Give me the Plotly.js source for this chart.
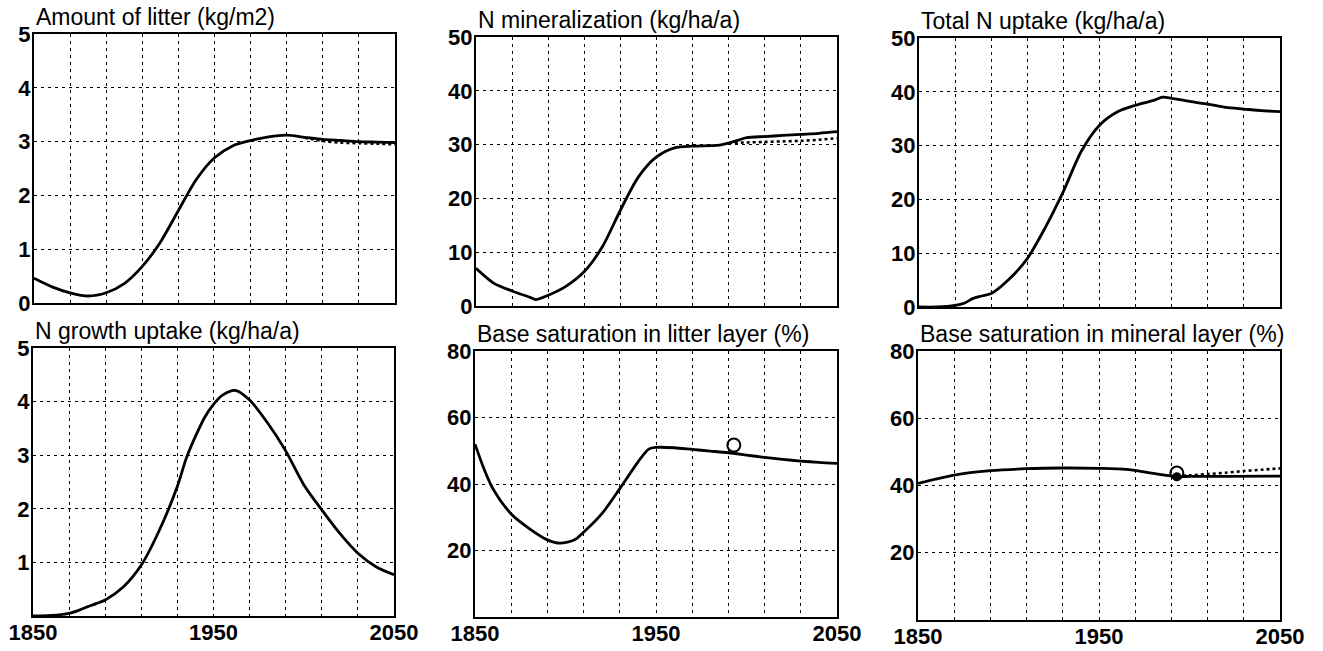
<!DOCTYPE html>
<html>
<head>
<meta charset="utf-8">
<script src="https://cdn.plot.ly/plotly-3.0.1.min.js"></script>
<style>html,body{margin:0;padding:0;background:#fff;}#chart{width:1323px;height:651px;}</style>
</head>
<body>
<div id="chart"></div>
<script>
// ---- data ----
var titles = ["Amount of litter (kg/m2)", "N mineralization (kg/ha/a)", "Total N uptake (kg/ha/a)",
              "N growth uptake (kg/ha/a)", "Base saturation in litter layer (%)", "Base saturation in mineral layer (%)"];

var gridYears = [1850,1870,1890,1910,1930,1950,1970,1990,2010,2030,2050];
var gridYearLabels = ["1850","","","","","1950","","","","","2050"];

var litterYears = [1850,1860,1870,1880,1890,1900,1910,1920,1930,1940,1950,1960,1970,1980,1990,2000,2010,2020,2030,2040,2050];
var litter      = [0.46,0.30,0.19,0.13,0.19,0.36,0.68,1.13,1.72,2.30,2.70,2.92,3.02,3.09,3.12,3.08,3.04,3.02,3.00,2.99,2.98];
var litterAltYears = [2000,2010,2020,2030,2040,2050];
var litterAlt      = [3.07,3.01,2.98,2.97,2.96,2.95];

var nminYears = [1850,1860,1870,1880,1883,1890,1900,1910,1920,1930,1940,1950,1960,1970,1980,1985,1990,1995,2000,2010,2020,2030,2040,2050];
var nmin      = [7.0,4.2,2.8,1.6,1.2,2.0,3.7,6.4,11.0,17.8,24.0,27.7,29.4,29.7,29.8,29.9,30.3,30.8,31.3,31.5,31.7,31.9,32.1,32.4];
var nminAltYears = [1990,2000,2010,2020,2030,2040,2050];
var nminAlt      = [30.3,30.4,30.5,30.6,30.7,30.9,31.2];

var totalNYears = [1850,1860,1870,1875,1880,1884,1890,1900,1910,1920,1930,1940,1950,1960,1970,1980,1985,1990,2000,2010,2020,2030,2040,2050];
var totalN      = [0,0,0.3,0.7,1.6,2.0,2.5,5.2,9.0,14.8,21.5,29.0,33.8,36.3,37.5,38.4,39.0,38.8,38.2,37.7,37.1,36.8,36.5,36.3];

var growthYears = [1850,1860,1870,1875,1880,1885,1890,1900,1910,1920,1930,1935,1940,1945,1950,1955,1962,1970,1980,1990,2000,2010,2020,2030,2040,2050];
var growth      = [0,0.01,0.05,0.1,0.17,0.23,0.3,0.54,0.95,1.6,2.42,2.95,3.35,3.7,3.95,4.12,4.21,4.03,3.6,3.08,2.45,1.98,1.54,1.17,0.92,0.77];

var litterBSYears = [1850,1855,1860,1870,1880,1890,1897,1905,1910,1920,1930,1940,1946,1950,1960,1970,1980,1990,2000,2010,2020,2030,2040,2050];
var litterBS      = [52,44.5,38.5,31,26.6,23.2,22.2,23.2,25.5,31,38.6,46.6,50.5,51,50.9,50.4,49.9,49.4,48.7,48.0,47.4,46.9,46.5,46.2];
var litterBSObsYear = [1993];
var litterBSObs     = [51.7];

var mineralBSYears = [1850,1870,1890,1910,1930,1950,1965,1980,1993,2000,2020,2050];
var mineralBS      = [40.6,43.1,44.4,45.0,45.2,45.1,44.8,43.6,42.7,42.7,42.7,42.8];
var mineralBSAltYears = [1993,2000,2010,2020,2030,2040,2050];
var mineralBSAlt      = [42.8,43.0,43.4,43.8,44.3,44.7,45.1];
var mineralBSObsYear = [1993];
var mineralBSObs     = [43.7];
var mineralBSModYear = [1993];
var mineralBSMod     = [42.6];

var yTicks = [[0,1,2,3,4,5],[0,10,20,30,40,50],[0,10,20,30,40,50],[1,2,3,4,5],[20,40,60,80],[20,40,60,80]];
var yRanges = [[0,5],[0,50],[0,50],[0,5],[0,80],[0,80]];

// ---- layout geometry (pixels) ----
var W = 1323, H = 651;
var boxes = [
  {l:34, r:395, t:34, b:303},
  {l:476, r:837, t:37, b:306},
  {l:919, r:1280, t:38, b:307},
  {l:33, r:394, t:348, b:616},
  {l:475, r:837, t:351, b:617},
  {l:918, r:1280, t:351, b:620}
];

var FONT = "Liberation Sans, Arial, Helvetica, sans-serif";
var lineStyle = {color:"#000", width:2.8, shape:"spline", smoothing:0.8};
var dotStyle = {color:"#000", width:2.6, dash:"dot", shape:"spline", smoothing:0.8};

function ax(i){ return i===0 ? "" : String(i+1); }

var traces = [];
function add(i, x, y, extra){
  var t = {x:x, y:y, type:"scatter", mode:"lines", xaxis:"x"+ax(i), yaxis:"y"+ax(i),
           line:lineStyle, showlegend:false, hoverinfo:"skip", cliponaxis:false};
  for (var k in extra) t[k] = extra[k];
  traces.push(t);
}
add(0, litterAltYears, litterAlt, {line:dotStyle});
add(0, litterYears, litter);
add(1, nminAltYears, nminAlt, {line:dotStyle});
add(1, nminYears, nmin);
add(2, totalNYears, totalN);
add(3, growthYears, growth);
add(4, litterBSYears, litterBS);
add(4, litterBSObsYear, litterBSObs, {mode:"markers", marker:{symbol:"circle-open", size:13, color:"#000", line:{width:2, color:"#000"}}});
add(5, mineralBSAltYears, mineralBSAlt, {line:dotStyle});
add(5, mineralBSYears, mineralBS);
add(5, mineralBSModYear, mineralBSMod, {mode:"markers", marker:{symbol:"circle", size:9, color:"#000"}});
add(5, mineralBSObsYear, mineralBSObs, {mode:"markers", marker:{symbol:"circle-open", size:13, color:"#000", line:{width:2, color:"#000"}}});

var layout = {
  width:W, height:H, margin:{l:0,r:0,t:0,b:0}, paper_bgcolor:"#fff", plot_bgcolor:"#fff",
  font:{family:FONT, color:"#000", size:22}, annotations:[]
};

var tickFont = {family:FONT, size:22, color:"#000", weight:"bold"};

boxes.forEach(function(b, i){
  var bottomRow = i >= 3;
  layout["xaxis"+ax(i)] = {
    domain:[b.l/W, b.r/W], anchor:"y"+ax(i), range:[1850,2050],
    tickvals:gridYears, ticktext: bottomRow ? gridYearLabels : gridYears.map(function(){return "";}),
    showticklabels:bottomRow, ticks:"", ticklabelstandoff:-4,
    showgrid:true, gridcolor:"#000", gridwidth:1, griddash:"3px,4px",
    showline:true, mirror:true, linecolor:"#000", linewidth:2, zeroline:false,
    tickfont:tickFont, fixedrange:true
  };
  layout["yaxis"+ax(i)] = {
    domain:[1-b.b/H, 1-b.t/H], anchor:"x"+ax(i), range:yRanges[i],
    tickvals:yTicks[i], ticks:"", ticklabelstandoff:-3,
    showgrid:true, gridcolor:"#000", gridwidth:1, griddash:"3px,4px",
    showline:true, mirror:true, linecolor:"#000", linewidth:2, zeroline:false,
    tickfont:tickFont, fixedrange:true
  };
  layout.annotations.push({
    text:titles[i], xref:"paper", yref:"paper", x:(b.l)/W, y:1-(b.t-2)/H,
    xanchor:"left", yanchor:"bottom", showarrow:false,
    font:{family:FONT, size:23, color:"#000"}
  });
});

Plotly.newPlot("chart", traces, layout, {staticPlot:true, displayModeBar:false});
</script>
</body>
</html>
